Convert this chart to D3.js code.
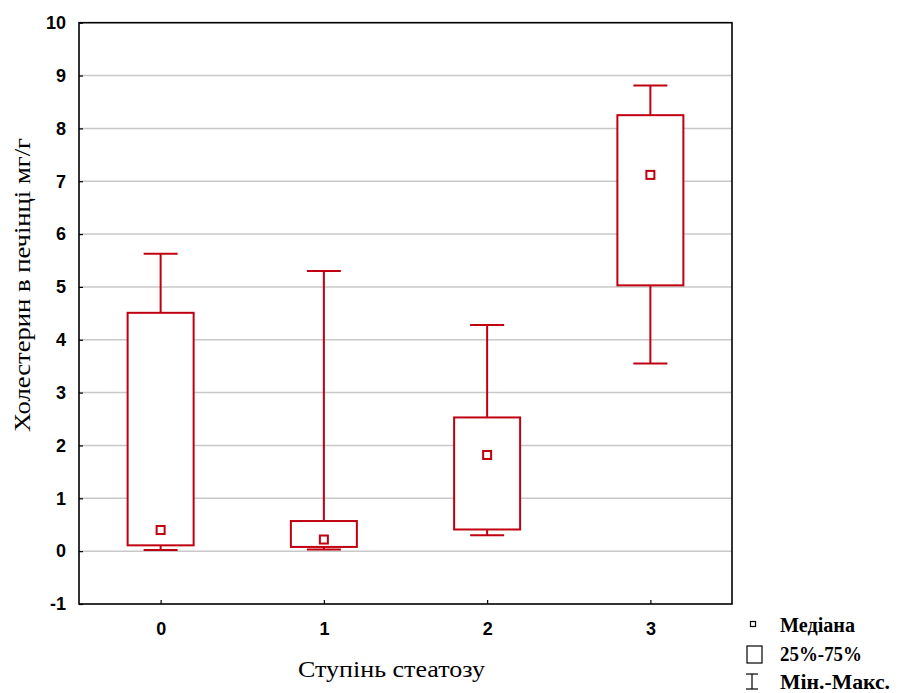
<!DOCTYPE html>
<html>
<head>
<meta charset="utf-8">
<script src="https://cdn.jsdelivr.net/npm/d3@7"></script>
<style>
  html, body { margin: 0; padding: 0; background: #fff; }
  svg { display: block; }
  .serif { font-family: "Liberation Serif", "Times New Roman", "DejaVu Serif", serif; }
  .tick text { font-family: "Liberation Sans", Arial, sans-serif; }
</style>
</head>
<body>
<svg id="chart" width="907" height="693"></svg>
<script>
// Steatosis grade groups and liver cholesterol summaries (mg/g)
const categories = ["0", "1", "2", "3"];
const minValues    = [0.02, 0.03, 0.30, 3.55];
const q1Values     = [0.11, 0.08, 0.41, 5.03];
const medianValues = [0.40, 0.22, 1.82, 7.12];
const q3Values     = [4.51, 0.57, 2.53, 8.25];
const maxValues    = [5.63, 5.30, 4.28, 8.81];
const yTicks = [-1, 0, 1, 2, 3, 4, 5, 6, 7, 8, 9, 10];
const legendLabels = ["Медіана", "25%-75%", "Мін.-Макс."];
const legendWidths = [75, 82, 110];

const rows = categories.map((c, i) => ({
  cat: c, min: minValues[i], q1: q1Values[i], med: medianValues[i], q3: q3Values[i], max: maxValues[i]
}));

const svg = d3.select("#chart");
const plot = { left: 79, right: 732, top: 22.7, bottom: 604 };

const x = d3.scalePoint().domain(categories).range([plot.left, plot.right]).padding(0.5);
const y = d3.scaleLinear().domain([-1, 10]).range([plot.bottom, plot.top]);

const boxColor = "#c00010";
const boxW = 66, capW = 34;

// grid lines
svg.append("g").selectAll("line").data(yTicks.filter(t => t > -1 && t < 10)).join("line")
  .attr("x1", plot.left).attr("x2", plot.right)
  .attr("y1", d => y(d)).attr("y2", d => y(d))
  .attr("stroke", "#c8c8c8").attr("stroke-width", 1.5);

// y axis (ticks drawn inward)
const yAxis = d3.axisLeft(y).tickValues(yTicks).tickSize(-4).tickPadding(13).tickFormat(d => String(d));
const gy = svg.append("g").attr("transform", `translate(${plot.left},0)`).call(yAxis);
gy.select(".domain").remove();
gy.selectAll("line").attr("stroke", "#000").attr("stroke-width", 1.2);
gy.selectAll("text").attr("font-size", 18).attr("font-weight", "bold").attr("fill", "#000");

// x axis (ticks drawn inward)
const xAxis = d3.axisBottom(x).tickSize(-4).tickPadding(18);
const gx = svg.append("g").attr("transform", `translate(0,${plot.bottom})`).call(xAxis);
gx.select(".domain").remove();
gx.selectAll("line").attr("stroke", "#000").attr("stroke-width", 1.2);
gx.selectAll("text").attr("font-size", 18).attr("font-weight", "bold").attr("fill", "#000");

// plot frame
svg.append("rect")
  .attr("x", plot.left).attr("y", plot.top)
  .attr("width", plot.right - plot.left).attr("height", plot.bottom - plot.top)
  .attr("fill", "none").attr("stroke", "#000").attr("stroke-width", 1.6);

// boxes
const g = svg.append("g").selectAll("g").data(rows).join("g");

g.append("line") // upper whisker
  .attr("x1", d => x(d.cat)).attr("x2", d => x(d.cat))
  .attr("y1", d => y(d.q3)).attr("y2", d => y(d.max))
  .attr("stroke", boxColor).attr("stroke-width", 2);
g.append("line") // lower whisker
  .attr("x1", d => x(d.cat)).attr("x2", d => x(d.cat))
  .attr("y1", d => y(d.q1)).attr("y2", d => y(d.min))
  .attr("stroke", boxColor).attr("stroke-width", 2);
g.append("line") // max cap
  .attr("x1", d => x(d.cat) - capW / 2).attr("x2", d => x(d.cat) + capW / 2)
  .attr("y1", d => y(d.max)).attr("y2", d => y(d.max))
  .attr("stroke", boxColor).attr("stroke-width", 2);
g.append("line") // min cap
  .attr("x1", d => x(d.cat) - capW / 2).attr("x2", d => x(d.cat) + capW / 2)
  .attr("y1", d => y(d.min)).attr("y2", d => y(d.min))
  .attr("stroke", boxColor).attr("stroke-width", 2);
g.append("rect") // interquartile box
  .attr("x", d => x(d.cat) - boxW / 2).attr("width", boxW)
  .attr("y", d => y(d.q3)).attr("height", d => y(d.q1) - y(d.q3))
  .attr("fill", "#fff").attr("stroke", boxColor).attr("stroke-width", 2);
g.append("rect") // median marker
  .attr("x", d => x(d.cat) - 4).attr("y", d => y(d.med) - 4)
  .attr("width", 8).attr("height", 8)
  .attr("fill", "#fff").attr("stroke", boxColor).attr("stroke-width", 2);

// axis titles
svg.append("text").attr("class", "serif")
  .attr("transform", `translate(30,${285}) rotate(-90)`)
  .attr("text-anchor", "middle").attr("font-size", 23)
  .attr("textLength", 294).attr("lengthAdjust", "spacingAndGlyphs")
  .text("Холестерин в печінці мг/г");
svg.append("text").attr("class", "serif")
  .attr("x", 391.5).attr("y", 677)
  .attr("text-anchor", "middle").attr("font-size", 23.5)
  .attr("textLength", 187).attr("lengthAdjust", "spacingAndGlyphs")
  .text("Ступінь стеатозу");

// legend
const lg = svg.append("g");
lg.append("rect").attr("x", 750.5).attr("y", 621.5).attr("width", 5).attr("height", 5)
  .attr("fill", "#fff").attr("stroke", "#000").attr("stroke-width", 1.2);
lg.append("rect").attr("x", 747).attr("y", 646).attr("width", 15).attr("height", 17)
  .attr("fill", "#fff").attr("stroke", "#000").attr("stroke-width", 1.2);
lg.append("line").attr("x1", 752).attr("x2", 752).attr("y1", 674).attr("y2", 689).attr("stroke", "#000").attr("stroke-width", 1.2);
lg.append("line").attr("x1", 746).attr("x2", 758).attr("y1", 674).attr("y2", 674).attr("stroke", "#000").attr("stroke-width", 1.2);
lg.append("line").attr("x1", 746).attr("x2", 758).attr("y1", 689).attr("y2", 689).attr("stroke", "#000").attr("stroke-width", 1.2);
lg.selectAll("text").data(legendLabels).join("text").attr("class", "serif")
  .attr("x", 780).attr("y", (d, i) => 632 + i * 28.5)
  .attr("font-size", 20).attr("font-weight", "bold")
  .attr("textLength", (d, i) => legendWidths[i]).attr("lengthAdjust", "spacingAndGlyphs")
  .text(d => d);
</script>
</body>
</html>
